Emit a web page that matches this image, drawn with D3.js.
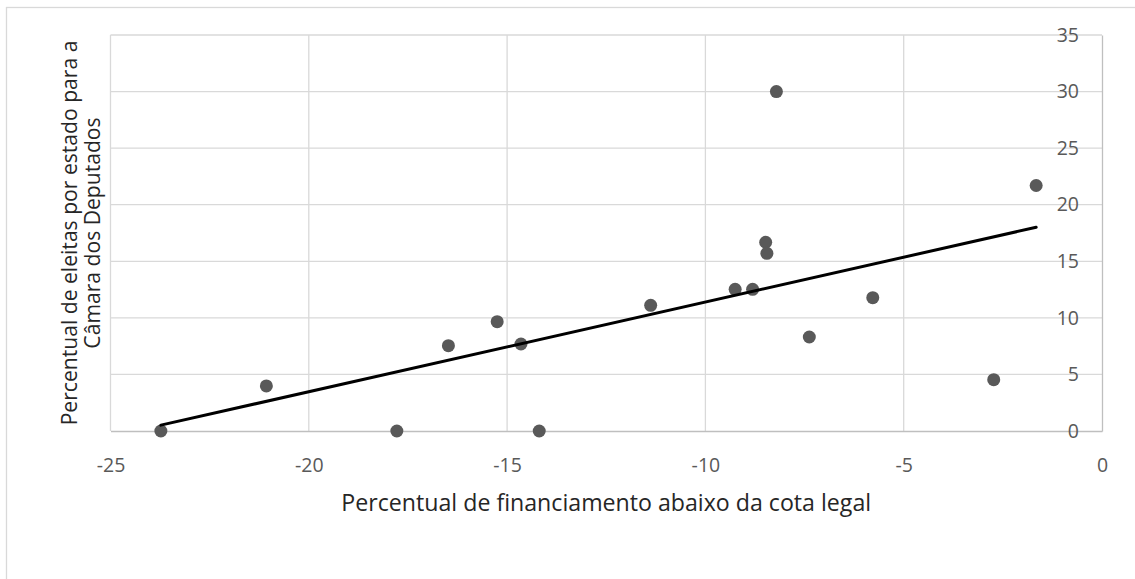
<!DOCTYPE html>
<html>
<head>
<meta charset="utf-8">
<script src="https://cdn.jsdelivr.net/npm/d3@7/dist/d3.min.js"></script>
<style>
  html, body { margin: 0; padding: 0; background: #fff; }
  svg { display: block; }
</style>
</head>
<body>
<svg id="chart" width="1135" height="579"></svg>
<script>
// ---- data ----
const financiamento = [-23.73, -21.07, -17.78, -16.48, -15.25, -14.65, -14.19, -11.38,
                       -9.25, -8.81, -8.48, -8.45, -8.21, -7.38, -5.78, -2.73, -1.66];
const eleitas = [0, 3.98, 0, 7.54, 9.66, 7.69, 0, 11.11,
                 12.52, 12.52, 16.68, 15.7, 30, 8.31, 11.78, 4.54, 21.7];
const xTicks = [-25, -20, -15, -10, -5, 0];
const yTicks = [0, 5, 10, 15, 20, 25, 30, 35];
const xTitle = "Percentual de financiamento abaixo da cota legal";
const yTitleLines = ["Percentual de eleitas por estado para a", "Câmara dos Deputados"];

// ---- layout ----
const svg = d3.select("#chart");
const plot = { left: 110.5, right: 1102, top: 35, bottom: 431 };
const font = "'Open Sans', 'Noto Sans', sans-serif";
const tickSize = 19.5;

const x = d3.scaleLinear().domain([-25, 0]).range([plot.left, plot.right]);
const y = d3.scaleLinear().domain([0, 35]).range([plot.bottom, plot.top]);

// outer chart border
svg.append("rect")
  .attr("x", 6.5).attr("y", 7.5)
  .attr("width", 1300).attr("height", 800)
  .attr("fill", "#fff").attr("stroke", "#d9d9d9").attr("stroke-width", 1.3);

// gridlines
const grid = svg.append("g");
grid.selectAll("line.v").data(xTicks.filter(d => d !== 0)).enter().append("line")
  .attr("x1", d => x(d)).attr("x2", d => x(d))
  .attr("y1", y(35)).attr("y2", y(0))
  .attr("stroke", "#d9d9d9").attr("stroke-width", 1.3);
grid.selectAll("line.h").data(yTicks.filter(d => d !== 0)).enter().append("line")
  .attr("x1", x(-25)).attr("x2", x(0))
  .attr("y1", d => y(d)).attr("y2", d => y(d))
  .attr("stroke", "#d9d9d9").attr("stroke-width", 1.3);

// x axis (at y = 0)
const xAxis = d3.axisBottom(x).tickValues(xTicks).tickSize(0).tickPadding(27)
  .tickFormat(d => d3.format("d")(d).replace("−", "-"));
const gx = svg.append("g").attr("transform", `translate(0,${y(0)})`).call(xAxis);
gx.select(".domain").attr("stroke", "#bfbfbf").attr("stroke-width", 1.3);
gx.selectAll("text").attr("fill", "#595959").style("font-family", font).style("font-size", tickSize + "px");

// y axis (at x = 0, labels to the left)
const yAxis = d3.axisLeft(y).tickValues(yTicks).tickSize(0).tickPadding(23)
  .tickFormat(d => d3.format("d")(d));
const gy = svg.append("g").attr("transform", `translate(${x(0)},0)`).call(yAxis);
gy.select(".domain").attr("stroke", "#bfbfbf").attr("stroke-width", 1.3);
gy.selectAll("text").attr("fill", "#595959").style("font-family", font).style("font-size", tickSize + "px");

// points
const pts = financiamento.map((v, i) => ({ x: v, y: eleitas[i] }));
svg.append("g").selectAll("circle").data(pts).enter().append("circle")
  .attr("cx", d => x(d.x)).attr("cy", d => y(d.y)).attr("r", 6.5)
  .attr("fill", "#595959");

// linear trend line (least squares) over data range
const mx = d3.mean(financiamento), my = d3.mean(eleitas);
const sxy = d3.sum(pts, d => (d.x - mx) * (d.y - my));
const sxx = d3.sum(pts, d => (d.x - mx) * (d.x - mx));
const slope = sxy / sxx, intercept = my - slope * mx;
const ext = d3.extent(financiamento);
svg.append("line")
  .attr("x1", x(ext[0])).attr("y1", y(intercept + slope * ext[0]))
  .attr("x2", x(ext[1])).attr("y2", y(intercept + slope * ext[1]))
  .attr("stroke", "#000").attr("stroke-width", 3).attr("stroke-linecap", "round");

// x axis title
const xt = svg.append("text")
  .attr("x", (plot.left + plot.right) / 2).attr("y", 511)
  .attr("text-anchor", "middle").attr("fill", "#262626")
  .style("font-family", font).style("font-size", "18px")
  .text(xTitle);
const w0 = xt.node().getComputedTextLength();
xt.style("font-size", (18 * 530 / w0) + "px");

// y axis title (two lines, rotated)
const cy = (plot.top + plot.bottom) / 2;
const yt = svg.append("text")
  .attr("transform", `translate(77,${cy}) rotate(-90)`)
  .attr("text-anchor", "middle").attr("fill", "#262626")
  .style("font-family", font).style("font-size", "18px");
const tsp = yt.selectAll("tspan").data(yTitleLines).enter().append("tspan")
  .attr("x", 0).text(d => d);
const w1 = tsp.nodes()[0].getComputedTextLength();
const ySize = 18 * 385 / w1;
yt.style("font-size", ySize + "px");
tsp.attr("dy", (d, i) => i === 0 ? 0 : 23);
</script>
</body>
</html>
